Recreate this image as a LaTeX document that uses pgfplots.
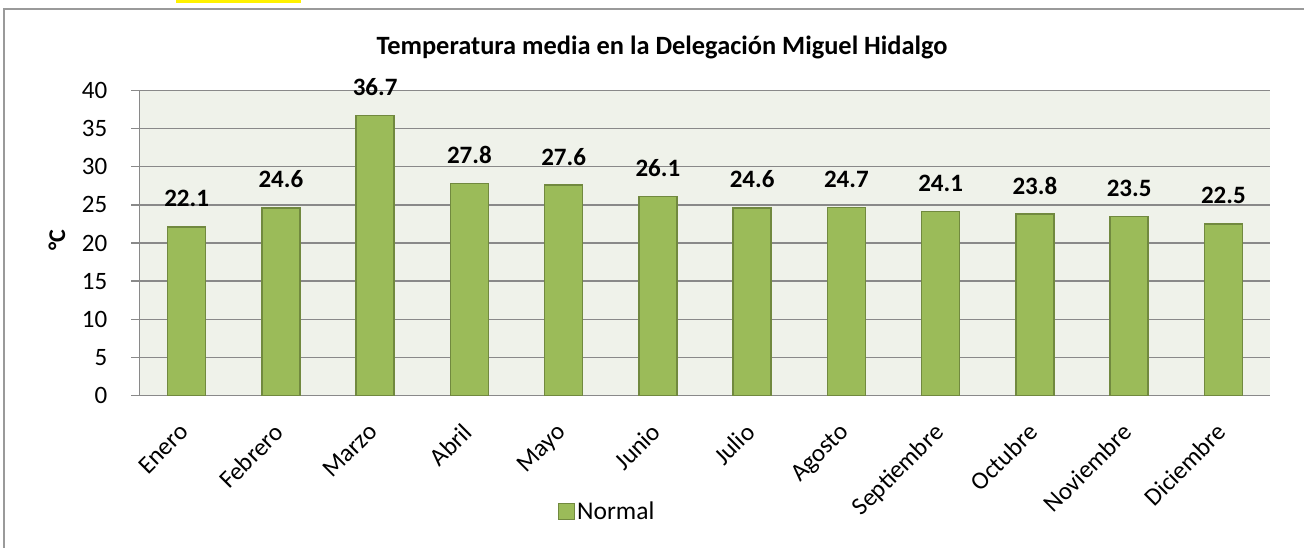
\documentclass[border=0pt]{standalone}
\usepackage{fontspec}
\setmainfont{Carlito}
\usepackage{pgfplots}
\pgfplotsset{compat=1.18}
\definecolor{barfill}{HTML}{9BBB59}
\definecolor{baredge}{HTML}{71893F}
\definecolor{plotbg}{HTML}{EFF2EA}
\definecolor{gridc}{HTML}{898989}
\definecolor{framec}{HTML}{9A9A9A}
\begin{document}
\begin{tikzpicture}[x=1pt,y=1pt]
\fill[yellow] (176,545) rectangle (301,548);
\draw[framec, line width=1.2pt] (4,0) -- (4,539) -- (1304,539);
\begin{axis}[
  at={(148,200)}, anchor=south west,
  scale only axis, width=1131pt, height=305pt,
  xmin=-0.5, xmax=11.5, ymin=0, ymax=40,
  ytick={0,5,...,40},
  xtick={0,...,11},
  xticklabels={Enero,Febrero,Marzo,Abril,Mayo,Junio,Julio,Agosto,Septiembre,Octubre,Noviembre,Diciembre},
  /pgf/number format/assume math mode=true,
  axis background/.style={fill=plotbg},
  axis x line*=bottom, axis y line*=left,
  axis line style={gridc, line width=1.3pt, -},
  ymajorgrids, grid style={gridc, line width=1.3pt},
  x tick style={draw=none},
  y tick style={gridc, line width=1.3pt},
  tick align=outside, major tick length=8pt,
  ticklabel style={font=\fontsize{25}{30}\selectfont},
  yticklabel style={anchor=east, inner sep=0pt, xshift=-24pt},
  xticklabel style={inner sep=0pt, anchor=north east, yshift=-18pt, xshift=-8pt, rotate=45},
  clip=false,
  ybar, bar width=38pt,
  nodes near coords,
  every node near coord/.append style={font=\bfseries\fontsize{25}{30}\selectfont, anchor=base, yshift=20pt},
  legend style={at={(0.4135,-0.38)}, anchor=center, draw=none, fill=none,
    font=\fontsize{25.5}{30}\selectfont, legend cell align=left},
  legend image code/.code={\draw[fill=barfill, draw=baredge, line width=1.3pt] (-7pt,-8pt) rectangle (9pt,8pt);},
]
\addplot[fill=barfill, draw=baredge, line width=1.3pt] coordinates {
(0,22.1) (1,24.6) (2,36.7) (3,27.8) (4,27.6) (5,26.1)
(6,24.6) (7,24.7) (8,24.1) (9,23.8) (10,23.5) (11,22.5)};
\addlegendentry{Normal}
\end{axis}
\node[anchor=base, font=\bfseries\fontsize{26.4}{30}\selectfont] at (662,493) {Temperatura media en la Delegación Miguel Hidalgo};
\node[rotate=90, font=\bfseries\fontsize{24}{30}\selectfont] at (57,308) {°C};
\pgfresetboundingbox
\useasboundingbox (0,0) rectangle (1304,548);
\end{tikzpicture}
\end{document}
